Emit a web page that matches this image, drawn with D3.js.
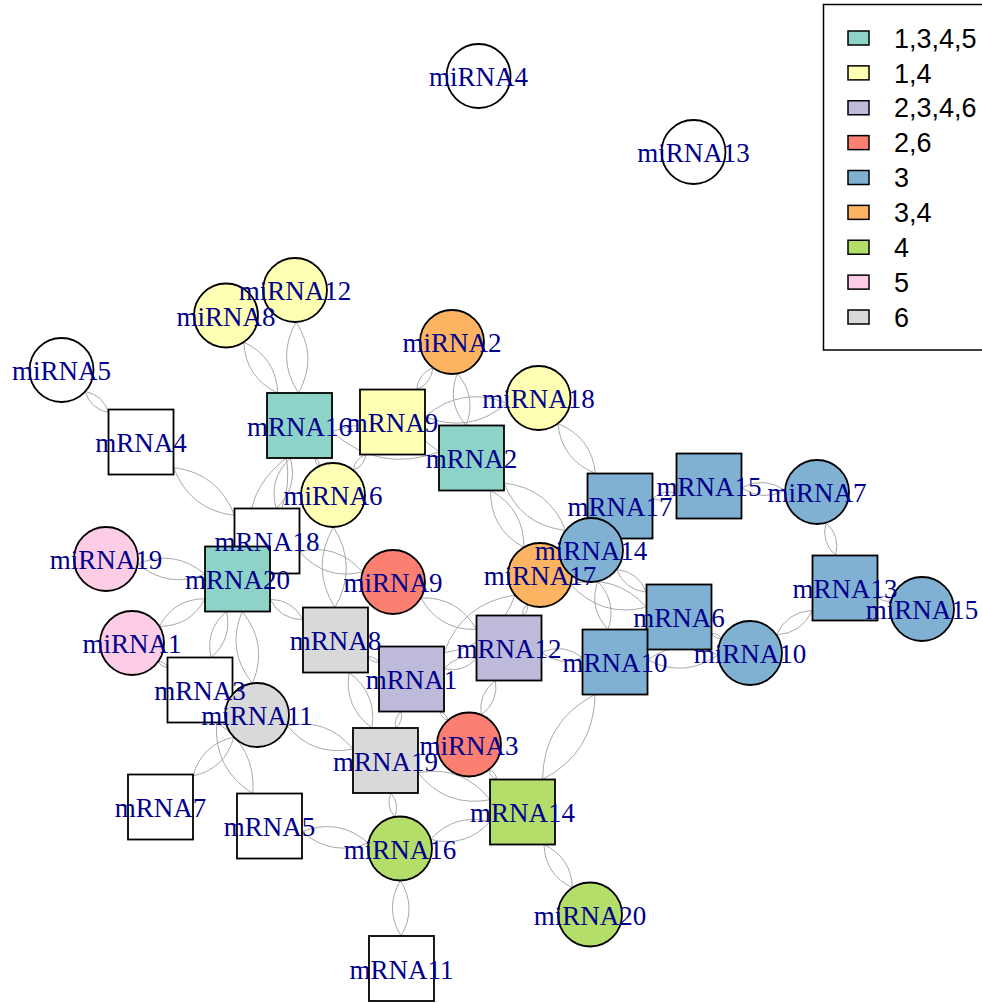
<!DOCTYPE html>
<html>
<head>
<meta charset="utf-8">
<script src="https://cdn.jsdelivr.net/npm/d3@7"></script>
<style>
html,body{margin:0;padding:0;background:#fff;}
svg{display:block;}
</style>
</head>
<body>
<svg id="chart" width="982" height="1003"></svg>
<script>
// ---------- DATA ----------
const nodeNames = ["mRNA1","mRNA2","mRNA3","mRNA4","mRNA5","mRNA6","mRNA7","mRNA8","mRNA9","mRNA10",
  "mRNA11","mRNA12","mRNA13","mRNA14","mRNA15","mRNA16","mRNA17","mRNA18","mRNA19","mRNA20",
  "miRNA1","miRNA2","miRNA3","miRNA4","miRNA5","miRNA6","miRNA7","miRNA8","miRNA9","miRNA10",
  "miRNA11","miRNA12","miRNA13","miRNA15","miRNA16","miRNA17","miRNA14","miRNA18","miRNA19","miRNA20"];
// layout coordinates (igraph style, rescaled to [-1,1])
const layoutX = [-0.1865,-0.0471,-0.6781,-0.8152,-0.5166,0.4352,-0.7699,-0.3632,-0.2307,0.2865,
  -0.2098,0.0401,0.8210,0.0715,0.5049,-0.4468,0.2981,-0.5224,-0.2470,-0.5909,
  -0.8361,-0.0924,-0.0529,-0.0308,-1.0,-0.3690,0.7560,-0.6177,-0.2295,0.6002,
  -0.5456,-0.4573,0.4689,1.0,-0.2133,0.1121,0.2307,0.1087,-0.8966,0.2284];
const layoutY = [-0.3513,0.1440,-0.3759,0.1798,-0.6807,-0.2123,-0.6381,-0.2639,0.2246,-0.3132,
  -1.0,-0.2818,-0.1473,-0.6493,0.0812,0.2168,0.0364,-0.0420,-0.5339,-0.1272,
  -0.2706,0.4039,-0.4980,1.0,0.3412,0.0611,0.0678,0.4633,-0.1339,-0.2930,
  -0.4319,0.5204,0.8297,-0.1944,-0.7311,-0.1182,-0.0622,0.2784,-0.0824,-0.8790];
const nodeGroup = ["2,3,4,6","1,3,4,5","","","","3","","6","1,4","3",
  "","2,3,4,6","3","4","3","1,3,4,5","3","","6","1,3,4,5",
  "5","3,4","2,6","","","1,4","3","1,4","2,6","3",
  "6","1,4","","3","4","3,4","3","1,4","5","4"];

const groupLabels = ["1,3,4,5","1,4","2,3,4,6","2,6","3","3,4","4","5","6"];
const groupColors = ["#8DD3C7","#FFFFB3","#BEBADA","#FB8072","#80B1D3","#FDB462","#B3DE69","#FCCDE5","#D9D9D9"];

const edgeFrom = ["miRNA5","miRNA8","miRNA12","mRNA4","mRNA16","mRNA16","mRNA16","mRNA16","miRNA6","miRNA2",
  "miRNA2","mRNA9","miRNA18","mRNA2","mRNA2","miRNA6","mRNA18","miRNA19","miRNA1","mRNA20",
  "mRNA20","mRNA20","miRNA1","miRNA11","mRNA3","miRNA11","mRNA8","mRNA8","mRNA1","mRNA1",
  "mRNA1","mRNA1","miRNA9","miRNA17","miRNA3","mRNA12","miRNA17","miRNA14","miRNA14","mRNA17",
  "mRNA15","miRNA7","mRNA13","mRNA13","miRNA10","miRNA10","mRNA19","mRNA5","miRNA16","miRNA16",
  "mRNA19","miRNA3","mRNA14","mRNA14","miRNA14"];
const edgeTo = ["mRNA4","mRNA16","mRNA16","mRNA18","mRNA18","mRNA20","miRNA6","mRNA2","mRNA9","mRNA9",
  "mRNA2","miRNA18","mRNA17","miRNA14","miRNA17","mRNA8","miRNA9","mRNA20","mRNA20","mRNA3",
  "miRNA11","mRNA8","mRNA3","mRNA7","mRNA5","mRNA19","mRNA19","mRNA1","mRNA12","miRNA17",
  "mRNA19","miRNA3","mRNA12","mRNA12","mRNA12","mRNA10","mRNA6","mRNA10","mRNA6","mRNA15",
  "miRNA7","mRNA13","miRNA15","miRNA10","mRNA6","mRNA10","miRNA16","miRNA16","mRNA11","mRNA14",
  "mRNA14","mRNA14","miRNA20","mRNA10","mRNA17"];

// ---------- DRAWING ----------
const svg = d3.select("#chart");
svg.append("rect").attr("width",982).attr("height",1003).attr("fill","#fff");

const x = d3.scaleLinear().domain([-1,1]).range([61.5,922]);
const y = d3.scaleLinear().domain([-1,1]).range([968.5,76]);
const colorScale = d3.scaleOrdinal().domain(groupLabels).range(groupColors);

const R = 32;      // circle radius
const H = 32.5;    // half side of squares

const nodes = nodeNames.map((n,i)=>({
  name:n, px:x(layoutX[i]), py:y(layoutY[i]),
  shape: n.startsWith("miRNA") ? "circle" : "square",
  fill: nodeGroup[i] === "" ? "#ffffff" : colorScale(nodeGroup[i])
}));
const byName = new Map(nodes.map(d=>[d.name,d]));

function clip(a, b){
  const dx=b.px-a.px, dy=b.py-a.py, len=Math.hypot(dx,dy);
  if(a.shape==="circle") return [a.px+dx/len*R, a.py+dy/len*R];
  const t = H/Math.max(Math.abs(dx),Math.abs(dy));
  return [a.px+dx*t, a.py+dy*t];
}

const gEdges = svg.append("g");
edgeFrom.forEach((f,i)=>{
  const a=byName.get(f), b=byName.get(edgeTo[i]);
  const p0=clip(a,b), p1=clip(b,a);
  const dx=p1[0]-p0[0], dy=p1[1]-p0[1], L=Math.hypot(dx,dy);
  const mx=(p0[0]+p1[0])/2, my=(p0[1]+p1[1])/2;
  const nx=-dy/L, ny=dx/L;
  [0.3,-0.3].forEach(k=>{
    const cx=mx+nx*k*L, cy=my+ny*k*L;
    const path=d3.path();
    path.moveTo(p0[0],p0[1]);
    path.quadraticCurveTo(cx,cy,p1[0],p1[1]);
    gEdges.append("path").attr("d",path.toString())
      .attr("fill","none").attr("stroke","#A9A9A9").attr("stroke-width",1);
  });
});

const gNodes = svg.append("g");
nodes.forEach(d=>{
  if(d.shape==="circle"){
    gNodes.append("circle").attr("cx",d.px).attr("cy",d.py).attr("r",R)
      .attr("fill",d.fill).attr("stroke","#000").attr("stroke-width",1.8);
  } else {
    gNodes.append("rect").attr("x",d.px-H).attr("y",d.py-H).attr("width",2*H).attr("height",2*H)
      .attr("fill",d.fill).attr("stroke","#000").attr("stroke-width",1.8);
  }
});

const gLabels = svg.append("g");
nodes.forEach(d=>{
  gLabels.append("text").attr("x",d.px).attr("y",d.py).attr("dy","0.38em")
    .attr("text-anchor","middle")
    .attr("font-family","'Liberation Serif','Times New Roman',serif")
    .attr("font-size",27).attr("fill","#00008B").text(d.name);
});

// legend
const leg = svg.append("g");
leg.append("rect").attr("x",823.5).attr("y",4.5).attr("width",170).attr("height",345.5)
  .attr("fill","#fff").attr("stroke","#000").attr("stroke-width",1.5);
const ly = d3.scaleLinear().domain([0,groupLabels.length-1]).range([38,317]);
groupLabels.forEach((g,i)=>{
  leg.append("rect").attr("x",848).attr("y",ly(i)-7).attr("width",21).attr("height",14)
    .attr("fill",colorScale(g)).attr("stroke","#000").attr("stroke-width",1.5);
  leg.append("text").attr("x",894).attr("y",ly(i)).attr("dy","0.36em")
    .attr("font-family","'Liberation Sans',Arial,sans-serif").attr("font-size",27)
    .attr("fill","#000").text(g);
});
</script>
</body>
</html>
